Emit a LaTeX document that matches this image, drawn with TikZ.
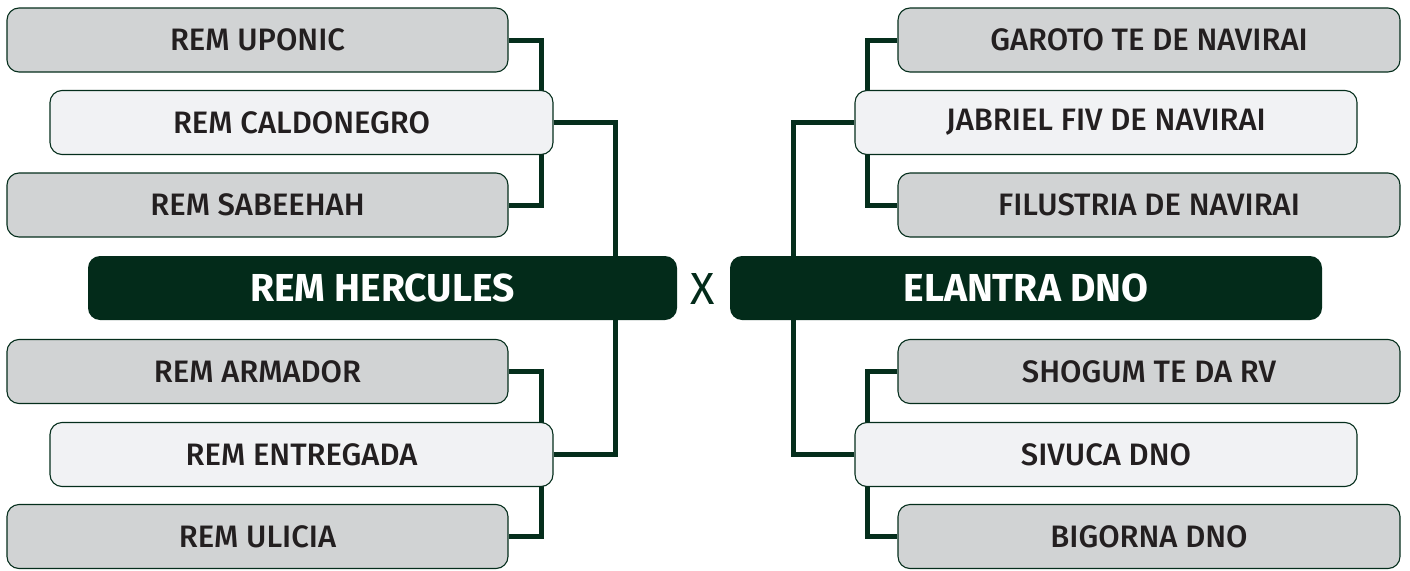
\documentclass[tikz,border=0pt]{standalone}
\usepackage{fontspec}
\setmainfont{Fira Sans}[UprightFont=* Medium, BoldFont=* Bold]
\newfontfamily\regfont{Fira Sans}
\usetikzlibrary{backgrounds}
\definecolor{dkgreen}{HTML}{032B1A}
\definecolor{linegreen}{HTML}{052E1C}
\definecolor{boxgray}{HTML}{D1D3D4}
\definecolor{boxlight}{HTML}{F1F2F4}
\definecolor{txt}{HTML}{231F20}
\tikzset{
  x=1pt, y=-1pt,
  basebox/.style={rectangle, rounded corners=12pt, inner sep=0pt, minimum height=64pt,
    draw=linegreen, line width=1.1pt, text=txt, font=\fontsize{31}{32}\selectfont},
  graybox/.style={basebox, fill=boxgray, minimum width=501pt},
  lightbox/.style={basebox, fill=boxlight, minimum width=503pt},
  finalbox/.style={rectangle, rounded corners=12pt, inner sep=0pt, minimum height=64pt,
    fill=dkgreen, text=white, font=\bfseries\fontsize{39}{40}\selectfont},
  conn/.style={draw=linegreen, line width=5pt, line join=miter},
}
\begin{document}
\begin{tikzpicture}
\useasboundingbox (0,0) rectangle (1410,570);
% left
\node[graybox]  (uponic) at (257.5,40)  {REM UPONIC};
\node[lightbox] (caldo)  at (301.5,122.5) {REM CALDONEGRO};
\node[graybox]  (sabee)  at (257.5,205) {REM SABEEHAH};
\node[finalbox, minimum width=589pt] (herc) at (382.5,288) {REM HERCULES};
\node[graybox]  (armad)  at (257.5,371.5) {REM ARMADOR};
\node[lightbox] (entre)  at (301.5,454.5) {REM ENTREGADA};
\node[graybox]  (ulic)   at (257.5,536.5) {REM ULICIA};
% centre
\node[text=dkgreen, font=\regfont\fontsize{45}{45}\selectfont, inner sep=0pt] (vs) at (703,289) {X};
% right
\node[finalbox, minimum width=592pt] (elan) at (1026,288) {ELANTRA DNO};
\node[graybox, minimum width=502pt]  (garoto) at (1149,40) {GAROTO TE DE NAVIRAI};
\node[lightbox, minimum width=502pt] (jabr)   at (1106,122.5) {JABRIEL FIV DE NAVIRAI};
\node[graybox, minimum width=502pt]  (filu)   at (1149,205) {FILUSTRIA DE NAVIRAI};
\node[graybox, minimum width=502pt]  (shog)   at (1149,371.5) {SHOGUM TE DA RV};
\node[lightbox, minimum width=502pt] (sivu)   at (1106,454.5) {SIVUCA DNO};
\node[graybox, minimum width=502pt]  (bigo)   at (1149,536.5) {BIGORNA DNO};
% guide coordinates
\coordinate (xli) at (541,0);
\coordinate (xlo) at (615,0);
\coordinate (xri) at (867,0);
\coordinate (xro) at (793,0);
\begin{scope}[on background layer]
\draw[conn] (uponic.east) -| (xli |- caldo.center) |- (sabee.east);
\draw[conn] (armad.east) -| (xli |- entre.center) |- (ulic.east);
\draw[conn] (caldo.east) -| (xlo |- herc.center);
\draw[conn] (entre.east) -| (xlo |- herc.center);
\draw[conn] (garoto.west) -| (xri |- jabr.center) |- (filu.west);
\draw[conn] (shog.west) -| (xri |- sivu.center) |- (bigo.west);
\draw[conn] (jabr.west) -| (xro |- elan.center);
\draw[conn] (sivu.west) -| (xro |- elan.center);
\end{scope}
\end{tikzpicture}
\end{document}
